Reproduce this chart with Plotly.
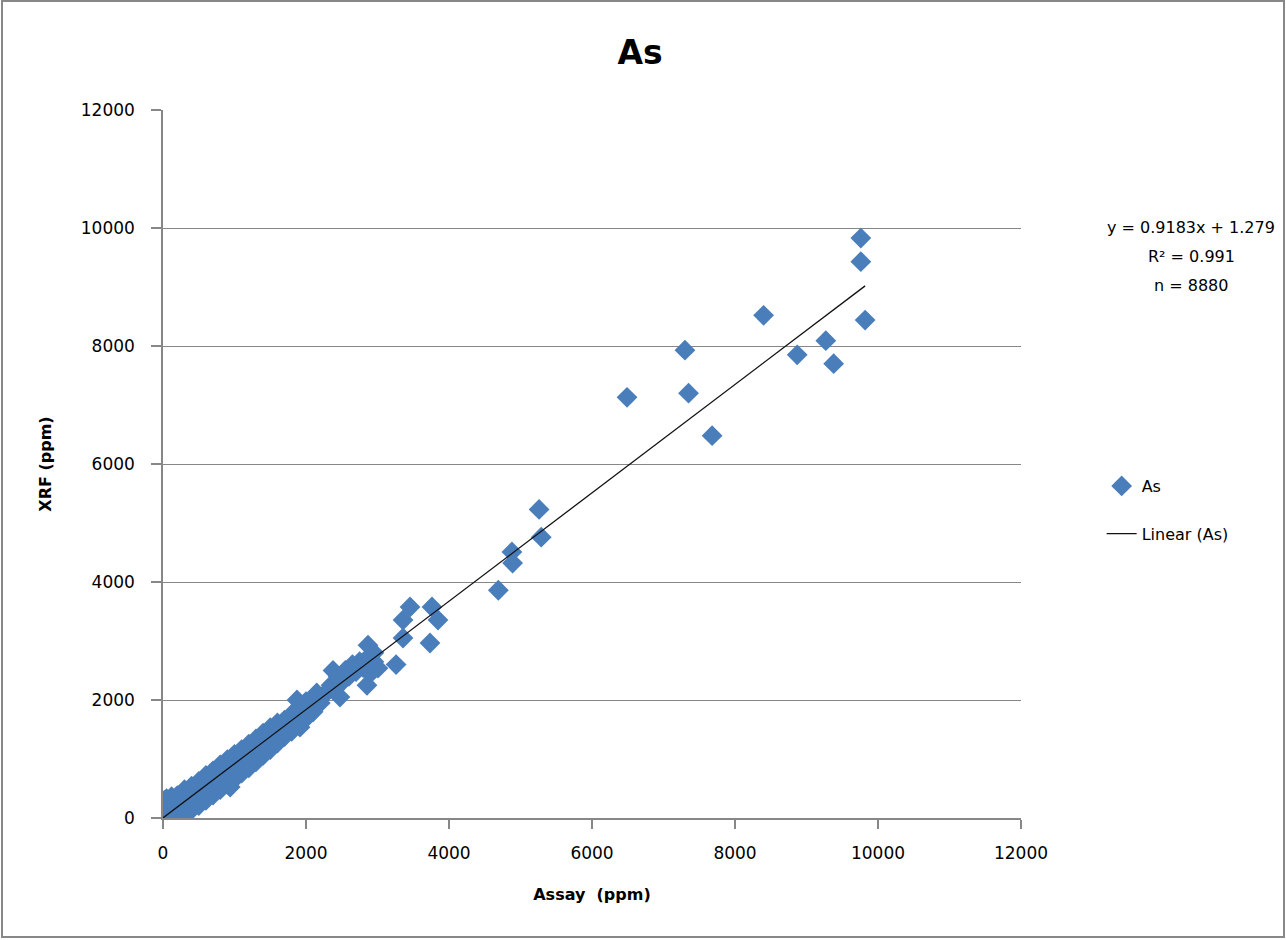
import plotly.graph_objects as go

# ---- data ----
assay_ppm = [
    # origin cluster
    0, 10, 20, 30, 40, 50, 60, 70, 90, 100, 120, 140, 160, 180, 200, 220, 250, 280,
    # dense band 300-2000
    300, 300, 330, 400, 400, 430, 500, 500, 530, 600, 600, 630, 700, 700, 730,
    800, 800, 830, 900, 900, 940, 960, 1000, 1000, 1030, 1100, 1100, 1130,
    1200, 1200, 1230, 1300, 1300, 1330, 1400, 1400, 1430, 1500, 1500, 1530,
    1600, 1600, 1630, 1700, 1700, 1730, 1800, 1800, 1830, 1874, 1916, 1900, 1900,
    1950, 2000, 2000, 2050, 2100, 2150, 2100,
    # cluster 2200-3000
    2200, 2250, 2300, 2350, 2378, 2400, 2450, 2475, 2500, 2550, 2600, 2650, 2700, 2750,
    2800, 2853, 2867, 2850, 2900, 2950, 3007, 2950,
    # sparse points
    3260, 3357, 3357, 3455, 3762, 3846, 3734,
    4690, 4880, 4890, 5260, 5290,
    6490, 7300, 7350, 7680, 8400, 8870, 9270, 9380, 9760, 9760, 9820,
]
xrf_ppm = [
    0, 120, 300, 40, 200, 330, 90, 250, 10, 180, 360, 60, 230, 120, 380, 40, 200, 400,
    480, 60, 300, 540, 140, 380, 620, 210, 460, 720, 300, 560, 800, 390, 640,
    900, 480, 740, 990, 570, 525, 860, 1080, 660, 920, 1160, 760, 1010,
    1250, 850, 1100, 1340, 950, 1200, 1440, 1060, 1290, 1530, 1160, 1390,
    1610, 1270, 1490, 1660, 1380, 1570, 1760, 1470, 1670, 2000, 1540, 1850, 1630,
    1770, 1970, 1690, 1870, 1800, 2120, 2000,
    1950, 2080, 2150, 2250, 2500, 2180, 2400, 2050, 2300, 2500, 2400, 2600, 2480, 2650,
    2550, 2250, 2930, 2700, 2450, 2800, 2540, 2650,
    2600, 3356, 3051, 3576, 3576, 3356, 2966,
    3860, 4510, 4320, 5230, 4760,
    7130, 7930, 7200, 6480, 8520, 7850, 8090, 7700, 9830, 9430, 8440,
]

slope = 0.9183
intercept = 1.279
r_squared = 0.991
n_samples = 8880

x_ticks = [0, 2000, 4000, 6000, 8000, 10000, 12000]
y_ticks = [0, 2000, 4000, 6000, 8000, 10000, 12000]

title_text = "As"
x_title = "Assay  (ppm)"
y_title = "XRF (ppm)"
series_name = "As"
trend_name = "Linear (As)"

# ---- figure ----
FONT = "DejaVu Sans"
GRID = "#878787"

fig = go.Figure()

fig.add_trace(go.Scatter(
    x=assay_ppm, y=xrf_ppm, mode="markers", name=series_name,
    legendgroup="a",
    marker=dict(symbol="diamond", size=16, color="#4A7EBB", line=dict(width=0)),
))

x_line = [min(assay_ppm), max(assay_ppm)]
y_line = [slope * v + intercept for v in x_line]
fig.add_trace(go.Scatter(
    x=x_line, y=y_line, mode="lines", name=trend_name,
    legendgroup="b",
    line=dict(color="#111111", width=1.3),
))

fig.update_layout(
    width=1286, height=940,
    margin=dict(l=163, r=265, t=110, b=122),
    paper_bgcolor="white", plot_bgcolor="white",
    font=dict(family=FONT, size=17, color="#000000"),
    title=dict(text="<b>" + title_text + "</b>", x=640 / 1286, xanchor="center",
               y=1 - 52 / 940, yanchor="middle",
               font=dict(family=FONT, size=33, color="#000000")),
    showlegend=True,
    legend=dict(x=1.094, xanchor="left", y=(818 - 469) / 708, yanchor="top",
                font=dict(family=FONT, size=16, color="#000000"),
                bgcolor="rgba(0,0,0,0)", borderwidth=0,
                traceorder="grouped", tracegroupgap=24),
)

fig.update_xaxes(
    range=[0, 12000], tickvals=x_ticks, ticktext=[str(v) for v in x_ticks],
    showgrid=False, zeroline=False,
    showline=True, linecolor=GRID, linewidth=1.5,
    ticks="outside", ticklen=9, tickcolor=GRID, tickwidth=1.5,
    ticklabelstandoff=10,
    tickfont=dict(family=FONT, size=17, color="#000000"),
    title=dict(text="<b>" + x_title + "</b>", standoff=27,
               font=dict(family=FONT, size=16, color="#000000")),
)
fig.update_yaxes(
    range=[0, 12000], tickvals=y_ticks, ticktext=[str(v) for v in y_ticks],
    showgrid=True, gridcolor=GRID, gridwidth=1.3, zeroline=False,
    showline=True, linecolor=GRID, linewidth=1.5,
    ticks="outside", ticklen=10, tickcolor=GRID, tickwidth=1.5,
    ticklabelstandoff=13,
    tickfont=dict(family=FONT, size=17, color="#000000"),
    title=dict(text="<b>" + y_title + "</b>", standoff=25,
               font=dict(family=FONT, size=16, color="#000000")),
)

# equation annotations
eq_lines = [
    "y = %.4fx + %.3f" % (slope, intercept),
    "R² = %.3f" % r_squared,
    "n = %d" % n_samples,
]
for i, txt in enumerate(eq_lines):
    fig.add_annotation(
        text=txt, xref="paper", yref="paper",
        x=(1191 - 163) / 858, y=(818 - (227 + 29 * i)) / 708,
        xanchor="center", yanchor="middle", showarrow=False,
        font=dict(family=FONT, size=16, color="#000000"),
    )

# outer chart border
fig.add_shape(
    type="rect", xref="paper", yref="paper",
    x0=(2 - 163) / 858, x1=(1284 - 163) / 858,
    y0=(818 - 937) / 708, y1=(818 - 1) / 708,
    line=dict(color="#888888", width=2), fillcolor="rgba(0,0,0,0)",
)

fig.write_html(
    "out.html",
    config={"displayModeBar": False},
    post_script="document.body.style.margin='0';document.body.style.padding='0';",
)
